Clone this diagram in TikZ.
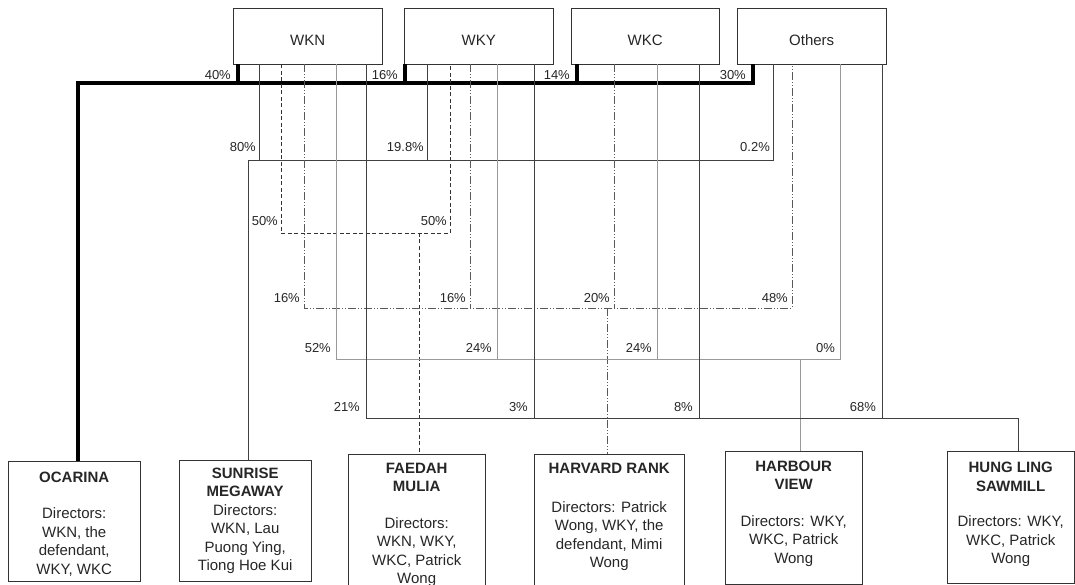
\documentclass[tikz,border=0pt]{standalone}
\usepackage{fontspec}
\setmainfont{Liberation Sans}
\usetikzlibrary{positioning}

\tikzset{
  holder/.style={draw=black!80, anchor=north west, inner sep=0pt,
    minimum width=149pt, minimum height=56pt, text height=18.5pt, text depth=0pt,
    text=black!85, font=\fontsize{15}{18}\selectfont},
  cobox/.style={draw=black!80, anchor=north west, inner sep=0pt},
  cotext/.style={anchor=north, inner sep=0pt, align=center, text=black!85,
    font=\fontsize{15}{18.5}\selectfont},
  pct/.style={anchor=south east, inner sep=0pt, text=black!85,
    font=\fontsize{13}{15}\selectfont},
  ocaline/.style={line width=3.5pt, black},
  ownline/.style={line width=0.9pt, black!75},
  faeline/.style={line width=0.9pt, black!80, dash pattern=on 4pt off 2.5pt},
  harline/.style={line width=0.9pt, black!65,
    dash pattern=on 8pt off 2pt on 1pt off 2pt on 1pt off 2pt},
  harbline/.style={line width=0.9pt, black!40}
}

\begin{document}
\begin{tikzpicture}[x=1pt,y=-1pt]
  \useasboundingbox (0,0) rectangle (1075,585);
  \clip (0,0) rectangle (1075,585);

  % shareholders
  \node[holder] (wkn) at (233,8) {WKN};
  \node[holder] (wky) at (404,8) {WKY};
  \node[holder, minimum width=148pt] (wkc) at (571,8) {WKC};
  \node[holder] (others) at (737,8) {Others};

  % companies
  \node[cobox, minimum width=132pt, minimum height=120pt] (ocarina) at (8,461) {};
  \node[cotext, below=10.5pt of ocarina.north] (ocarina-t)
    {\textbf{OCARINA}\\[18pt] Directors:\\ WKN, the\\ defendant,\\ WKY, WKC};
  \node[cobox, minimum width=132pt, minimum height=121pt] (sunrise) at (179,460) {};
  \node[cotext, below=7.5pt of sunrise.north] (sunrise-t)
    {\textbf{SUNRISE}\\ \textbf{MEGAWAY}\\ Directors:\\ WKN, Lau\\ Puong Ying,\\ Tiong Hoe Kui};
  \node[cobox, minimum width=137pt, minimum height=150pt] (faedah) at (348,454) {};
  \node[cotext, below=8.5pt of faedah.north] (faedah-t)
    {\textbf{FAEDAH}\\ \textbf{MULIA}\\[18pt] Directors:\\ WKN, WKY,\\ WKC, Patrick\\ Wong};
  \node[cobox, minimum width=150pt, minimum height=150pt] (harvard) at (534,454) {};
  \node[cotext, below=9pt of harvard.north] (harvard-t)
    {\textbf{HARVARD RANK}\\[20pt] Directors: Patrick\\ Wong, WKY, the\\ defendant, Mimi\\ Wong};
  \node[cobox, minimum width=137pt, minimum height=133pt] (harbour) at (725,451) {};
  \node[cotext, below=9.5pt of harbour.north] (harbour-t)
    {\textbf{HARBOUR}\\ \textbf{VIEW}\\[18pt] Directors: WKY,\\ WKC, Patrick\\ Wong};
  \node[cobox, minimum width=127pt, minimum height=132pt] (hungling) at (947,451) {};
  \node[cotext, below=11pt of hungling.north] (hungling-t)
    {\textbf{HUNG LING}\\ \textbf{SAWMILL}\\[17pt] Directors: WKY,\\ WKC, Patrick\\ Wong};

  % Ocarina
  \draw[ocaline] (ocarina.north -| 78,0) |- (753,83) -- (others.south -| 753,0);
  \foreach \b/\x in {wkn/238, wky/405, wkc/577}
    \draw[ocaline] (\b.south -| \x,0) -- (\x,83);
  \foreach \x/\p in {238/40, 405/16, 577/14, 753/30}
    \node[pct] at (\x-7,80) {\p\%};

  % Sunrise Megaway
  \draw[ownline] (sunrise.north -| 248,0) |- (773,160) -- (others.south -| 773,0);
  \foreach \b/\x in {wkn/259, wky/427}
    \draw[ownline] (\b.south -| \x,0) -- (\x,160);
  \foreach \x/\p in {259/80, 427/19.8, 773/0.2}
    \node[pct] at (\x-3,152) {\p\%};

  % Faedah Mulia
  \draw[faeline] (wkn.south -| 281,0) |- (450,233) -- (wky.south -| 450,0);
  \draw[faeline] (419,233) -- (faedah.north -| 419,0);
  \foreach \x in {281, 450}
    \node[pct] at (\x-3,226) {50\%};

  % Harvard Rank
  \draw[harline] (wkn.south -| 304,0) |- (792,308) -- (others.south -| 792,0);
  \foreach \b/\x in {wky/470, wkc/614}
    \draw[harline] (\b.south -| \x,0) -- (\x,308);
  \draw[harline] (607,308) -- (harvard.north -| 607,0);
  \foreach \x/\p in {304/16, 470/16, 614/20, 792/48}
    \node[pct] at (\x-4,303) {\p\%};

  % Harbour View
  \draw[harbline] (wkn.south -| 336,0) |- (840,359) -- (others.south -| 840,0);
  \foreach \b/\x in {wky/497, wkc/657}
    \draw[harbline] (\b.south -| \x,0) -- (\x,359);
  \draw[harbline] (800,359) -- (harbour.north -| 800,0);
  \foreach \x/\p in {336/52, 497/24, 657/24, 840/0}
    \node[pct] at (\x-5,353) {\p\%};

  % Hung Ling Sawmill
  \draw[ownline] (wkn.south -| 366,0) |- (1018,418) -- (hungling.north -| 1018,0);
  \foreach \b/\x in {wky/534, wkc/699, others/882}
    \draw[ownline] (\b.south -| \x,0) -- (\x,418);
  \foreach \x/\p in {366/21, 534/3, 699/8, 882/68}
    \node[pct] at (\x-6,412) {\p\%};
\end{tikzpicture}
\end{document}
